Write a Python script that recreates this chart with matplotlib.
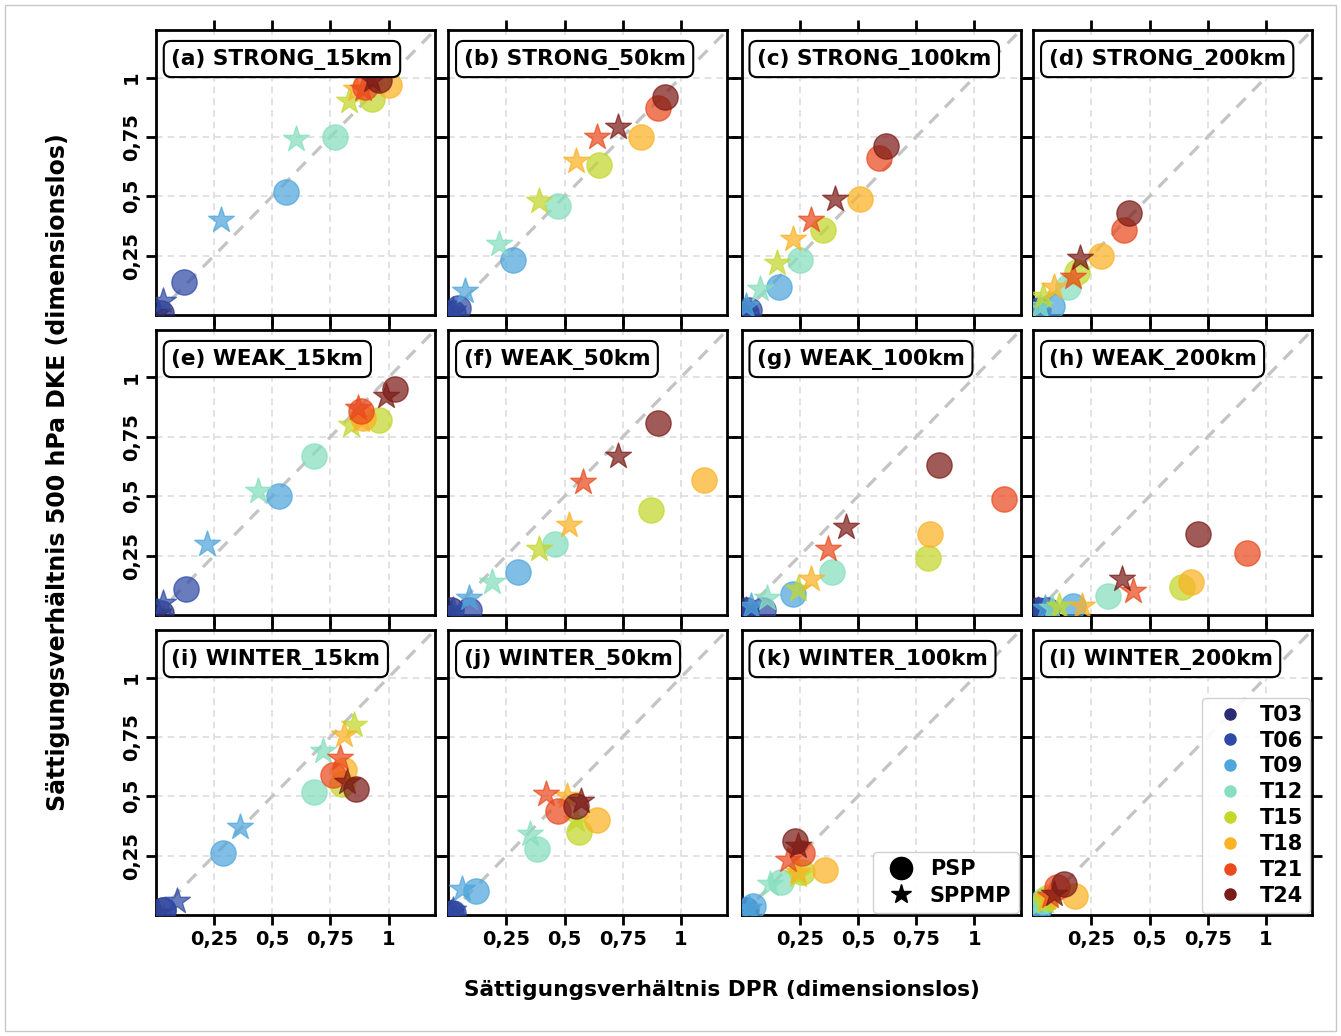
import matplotlib
matplotlib.use("Agg")
import matplotlib.pyplot as plt
from matplotlib.lines import Line2D
from matplotlib.patches import Rectangle

plt.rcParams['font.family'] = ['DejaVu Sans']
plt.rcParams['font.weight'] = 'bold'

times = ["T03", "T06", "T09", "T12", "T15", "T18", "T21", "T24"]
colors = ["#2b2d72", "#2f4aa6", "#4fa6dc", "#86dfbf", "#c3d82b", "#fbb224", "#ea4a1e", "#7c1c17"]

titles = ["(a) STRONG_15km", "(b) STRONG_50km", "(c) STRONG_100km", "(d) STRONG_200km",
          "(e) WEAK_15km", "(f) WEAK_50km", "(g) WEAK_100km", "(h) WEAK_200km",
          "(i) WINTER_15km", "(j) WINTER_50km", "(k) WINTER_100km", "(l) WINTER_200km"]

# PSP values (x = DPR ratio, y = DKE ratio), order T03..T24
psp_x = [
    [0.02, 0.12, 0.56, 0.77, 0.93, 1.00, 0.90, 0.96],
    [0.02, 0.04, 0.28, 0.47, 0.65, 0.83, 0.90, 0.93],
    [0.02, 0.03, 0.16, 0.25, 0.35, 0.51, 0.59, 0.62],
    [0.01, 0.02, 0.08, 0.15, 0.19, 0.29, 0.39, 0.41],
    [0.02, 0.13, 0.53, 0.68, 0.96, 0.89, 0.88, 1.03],
    [0.01, 0.09, 0.30, 0.46, 0.87, 1.10, 1.30, 0.90],
    [0.02, 0.09, 0.22, 0.39, 0.80, 0.81, 1.13, 0.85],
    [0.02, 0.06, 0.17, 0.32, 0.64, 0.68, 0.92, 0.71],
    [0.03, 0.03, 0.29, 0.68, 0.80, 0.81, 0.76, 0.86],
    [0.01, 0.02, 0.12, 0.38, 0.56, 0.64, 0.47, 0.55],
    [0.01, 0.02, 0.05, 0.17, 0.26, 0.36, 0.26, 0.23],
    [0.01, 0.02, 0.03, 0.04, 0.06, 0.18, 0.10, 0.13],
]
psp_y = [
    [0.01, 0.14, 0.52, 0.75, 0.91, 0.97, 0.96, 0.99],
    [0.01, 0.03, 0.23, 0.46, 0.63, 0.75, 0.87, 0.92],
    [0.01, 0.02, 0.12, 0.23, 0.36, 0.49, 0.66, 0.71],
    [0.01, 0.02, 0.04, 0.12, 0.18, 0.25, 0.36, 0.43],
    [0.01, 0.11, 0.50, 0.67, 0.82, 0.83, 0.86, 0.95],
    [0.02, 0.02, 0.18, 0.30, 0.44, 0.57, 0.75, 0.81],
    [0.02, 0.02, 0.09, 0.18, 0.24, 0.34, 0.49, 0.63],
    [0.02, 0.02, 0.04, 0.08, 0.12, 0.14, 0.26, 0.34],
    [0.02, 0.02, 0.26, 0.52, 0.55, 0.61, 0.59, 0.53],
    [0.01, 0.01, 0.10, 0.28, 0.35, 0.40, 0.44, 0.46],
    [0.01, 0.02, 0.04, 0.14, 0.18, 0.19, 0.26, 0.31],
    [0.01, 0.02, 0.04, 0.06, 0.07, 0.08, 0.12, 0.13],
]
# SPPMP values
sp_x = [
    [0.01, 0.03, 0.28, 0.60, 0.83, 0.86, 0.89, 0.93],
    [0.01, 0.02, 0.07, 0.22, 0.39, 0.55, 0.64, 0.73],
    [0.01, 0.01, 0.02, 0.08, 0.15, 0.22, 0.30, 0.40],
    [0.01, 0.01, 0.02, 0.03, 0.04, 0.09, 0.17, 0.20],
    [0.01, 0.03, 0.22, 0.44, 0.84, 0.88, 0.87, 0.99],
    [0.01, 0.02, 0.09, 0.19, 0.39, 0.52, 0.58, 0.73],
    [0.01, 0.02, 0.04, 0.11, 0.24, 0.30, 0.37, 0.45],
    [0.01, 0.02, 0.05, 0.08, 0.11, 0.21, 0.43, 0.38],
    [0.01, 0.09, 0.36, 0.72, 0.85, 0.81, 0.79, 0.82],
    [0.01, 0.02, 0.06, 0.35, 0.55, 0.51, 0.42, 0.57],
    [0.01, 0.02, 0.03, 0.12, 0.24, 0.24, 0.20, 0.24],
    [0.01, 0.01, 0.02, 0.03, 0.05, 0.06, 0.07, 0.09],
]
sp_y = [
    [0.01, 0.06, 0.40, 0.74, 0.90, 0.95, 0.95, 0.99],
    [0.01, 0.02, 0.10, 0.30, 0.48, 0.65, 0.75, 0.79],
    [0.01, 0.01, 0.04, 0.11, 0.22, 0.32, 0.40, 0.49],
    [0.01, 0.01, 0.02, 0.04, 0.08, 0.12, 0.16, 0.24],
    [0.01, 0.05, 0.30, 0.52, 0.80, 0.82, 0.87, 0.92],
    [0.01, 0.02, 0.07, 0.14, 0.28, 0.38, 0.56, 0.67],
    [0.01, 0.02, 0.04, 0.07, 0.11, 0.15, 0.28, 0.37],
    [0.01, 0.02, 0.03, 0.03, 0.04, 0.04, 0.10, 0.15],
    [0.01, 0.06, 0.37, 0.69, 0.80, 0.76, 0.66, 0.56],
    [0.01, 0.02, 0.11, 0.34, 0.40, 0.50, 0.51, 0.48],
    [0.01, 0.02, 0.03, 0.13, 0.17, 0.18, 0.23, 0.29],
    [0.01, 0.02, 0.03, 0.05, 0.06, 0.07, 0.08, 0.09],
]

ticks = [0.25, 0.5, 0.75, 1.0]
tick_labels = ["0,25", "0,5", "0,75", "1"]

W, H = 1341, 1036
fig = plt.figure(figsize=(W / 100, H / 100), dpi=100)
fig.patches.append(Rectangle((5 / W, 5 / H), 1 - 10 / W, 1 - 10 / H, transform=fig.transFigure,
                             fill=False, edgecolor="#c8c8c8", lw=1.0))

lefts = [156, 448.3, 741.7, 1033.3]
bottoms_px = [315, 615, 915]
aw, ah = 279, 285

axes = []
for r in range(3):
    for c in range(4):
        i = r * 4 + c
        ax = fig.add_axes([lefts[c] / W, 1 - bottoms_px[r] / H, aw / W, ah / H])
        axes.append(ax)
        ax.set_xlim(0, 1.2)
        ax.set_ylim(0, 1.2)
        ax.grid(True, ls=(0, (4, 3)), color="#dddddd", lw=1.2)
        ax.set_axisbelow(True)
        ax.plot([0, 1.2], [0, 1.2], ls=(0, (4, 3)), color="#c4c4c4", lw=2.3, zorder=1)
        for k in range(8):
            ax.scatter(psp_x[i][k], psp_y[i][k], s=330, marker='o', color=colors[k],
                       alpha=0.72, edgecolors=colors[k], linewidths=1.0, zorder=3)
            ax.scatter(sp_x[i][k], sp_y[i][k], s=380, marker='*', color=colors[k],
                       alpha=0.72, edgecolors=colors[k], linewidths=1.0, zorder=3)
        ax.set_xticks(ticks)
        ax.set_yticks(ticks)
        ax.tick_params(direction='out', length=7, width=2, top=True, right=True,
                       labelsize=14, pad=4)
        if c == 0:
            ax.set_yticklabels(tick_labels, rotation=90, va='center', fontweight='bold')
        else:
            ax.set_yticklabels([])
        if r == 2:
            ax.set_xticklabels(tick_labels, fontweight='bold')
        else:
            ax.set_xticklabels([])
        for sp in ax.spines.values():
            sp.set_linewidth(2)
        ax.text(0.055, 0.935, titles[i], transform=ax.transAxes, ha='left', va='top',
                fontsize=15.6, fontweight='bold', zorder=10,
                bbox=dict(boxstyle='round,pad=0.35', fc='white', ec='black', lw=1.5))

# marker-type legend in (k)
h1 = [Line2D([], [], marker='o', color='black', ls='none', markersize=16),
      Line2D([], [], marker='*', color='black', ls='none', markersize=15)]
leg1 = axes[10].legend(h1, ["PSP", "SPPMP"], loc='lower right', prop={'weight': 'bold', 'size': 15},
                       handletextpad=0.4, labelspacing=0.3, borderpad=0.35, borderaxespad=0.1,
                       framealpha=0.9)
leg1.set_zorder(20)

# time legend in (l)
h2 = [Line2D([], [], marker='o', color=colors[k], ls='none', markersize=8) for k in range(8)]
leg2 = axes[11].legend(h2, times, loc='lower right', prop={'weight': 'bold', 'size': 15},
                       handletextpad=0.4, labelspacing=0.28, borderpad=0.35, borderaxespad=0.1,
                       framealpha=0.9)
leg2.set_zorder(20)

fig.text(58 / W, 1 - 472 / H, "Sättigungsverhältnis 500 hPa DKE (dimensionslos)", rotation=90,
         ha='center', va='center', fontsize=17, fontweight='bold')
fig.text(722 / W, 1 - 990 / H, "Sättigungsverhältnis DPR (dimensionslos)",
         ha='center', va='center', fontsize=15.6, fontweight='bold')

fig.savefig("out.png", dpi=100)
